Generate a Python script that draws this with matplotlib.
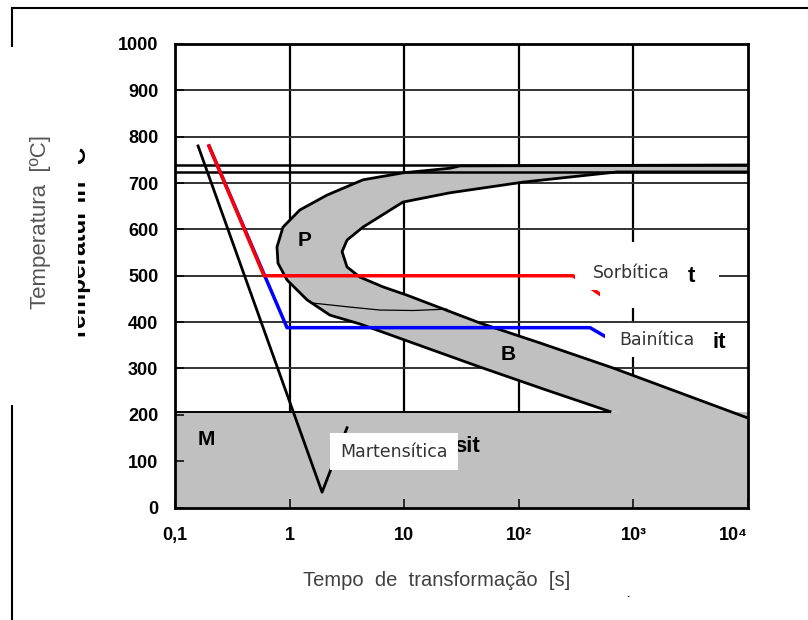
import numpy as np
import matplotlib
matplotlib.use("Agg")
import matplotlib.pyplot as plt
from matplotlib.patches import Rectangle
from matplotlib.lines import Line2D

plt.rcParams["font.family"] = ["Liberation Sans", "DejaVu Sans"]

W, H = 808, 620

# start of transformation (outer edge of the P/B band), from top right to the tip
outer_t = [1e4, 30.7, 25.1, 9.76, 4.37, 2.12, 1.23, 0.876, 0.776, 0.792, 0.949, 1.42, 2.25, 4.11, 11.9, 45.9, 176, 625]
outer_T = [739, 737, 732, 722, 707, 674, 642, 605, 562, 527, 491, 448, 415, 396, 355, 303, 253, 207]
# end of transformation (inner edge), from bottom right up to top right
inner_t = [1e4, 664, 153, 45.9, 10.6, 6.53, 4.11, 3.17, 2.87, 3.17, 4.37, 9.76, 25.1, 109, 720, 1e4]
inner_T = [193, 301, 355, 398, 458, 476, 497, 519, 552, 577, 605, 659, 679, 702, 724, 724]
# thin P/B separation line
sep_t = [1.6, 3.5, 6.15, 12.0, 23.5]
sep_T = [441, 432, 426, 425, 428]

ms_temp = 207
a_lines = [739, 724]

# cooling curves
mart_t = [0.159, 1.92, 3.17]
mart_T = [780, 33, 172]
sorb_t = [0.198, 0.598, 297, 511]
sorb_T = [780, 500, 500, 460]
bain_t = [0.198, 0.949, 418, 577]
bain_T = [780, 388, 388, 368]

xticks = [0.1, 1, 10, 100, 1000, 10000]
xtick_labels = ["0,1", "1", "10", "10²", "10³", "10⁴"]
yticks = list(range(0, 1001, 100))

fig = plt.figure(figsize=(W / 100, H / 100), dpi=100)
ax = fig.add_axes([175 / W, 1 - 507.5 / H, (748 - 175) / W, (507.5 - 44) / H])
ax.set_xscale("log")
ax.set_xlim(0.1, 1e4)
ax.set_ylim(0, 1000)

gray = "#c0c0c0"
for x in xticks[1:-1]:
    ax.axvline(x, color="black", lw=1.6, zorder=0.5)
for y in yticks[1:-1]:
    ax.axhline(y, color="#333333", lw=1.4, zorder=0.5)

ax.fill(outer_t + inner_t, outer_T + inner_T, color=gray, lw=0, zorder=1)
ax.fill_between([0.1, 1e4], 0, ms_temp, color=gray, lw=0, zorder=1)

for y in a_lines:
    ax.axhline(y, color="black", lw=1.8, zorder=2)
ax.plot([0.1, outer_t[-1]], [ms_temp, ms_temp], color="black", lw=1.4, zorder=2)
ax.plot(outer_t, outer_T, color="black", lw=2, zorder=2)
ax.plot(inner_t, inner_T, color="black", lw=2, zorder=2)
ax.plot(sep_t, sep_T, color="black", lw=0.9, zorder=2)

ax.plot(mart_t, mart_T, color="black", lw=2, zorder=3)
ax.plot(bain_t, bain_T, color="#0000ff", lw=2.5, zorder=3)
ax.plot(sorb_t, sorb_T, color="#ff0000", lw=2.5, zorder=3)

ax.text(1.36, 577, "P", fontsize=15, fontweight="bold", ha="center", va="center", zorder=4)
ax.text(80.5, 331, "B", fontsize=15, fontweight="bold", ha="center", va="center", zorder=4)
ax.text(0.186, 146, "M", fontsize=15, fontweight="bold", ha="center", va="center", zorder=4)

ax.minorticks_off()
ax.set_xticks(xticks)
ax.set_xticklabels(xtick_labels)
ax.set_yticks(yticks)
ax.tick_params(direction="in", length=6.5, width=1.1, top=False, right=False)
ax.tick_params(axis="x", pad=14)
ax.tick_params(axis="y", pad=12)
for lab in ax.get_xticklabels() + ax.get_yticklabels():
    lab.set_fontweight("bold")
    lab.set_fontsize(13)
ax.get_xticklabels()[-1].set_ha("right")
for sp in ax.spines.values():
    sp.set_linewidth(2)


def fx(px):
    return px / W


def fy(py):
    return 1 - py / H


def white_box(x0, y0, x1, y1, z=6):
    fig.add_artist(Rectangle((fx(x0), fy(y1)), fx(x1) - fx(x0), fy(y0) - fy(y1),
                             transform=fig.transFigure, facecolor="white", edgecolor="none", zorder=z))


# outer frame
fig.add_artist(Line2D([fx(12), fx(808)], [fy(8), fy(8)], color="black", lw=1.5, zorder=1))
fig.add_artist(Line2D([fx(12), fx(12)], [fy(8), fy(620)], color="black", lw=1.5, zorder=1))

# old bold labels, partly covered
fig.text(fx(91), fy(244), "Temperatur in °C", rotation=90, fontsize=17.5, fontweight="bold",
         ha="right", va="center", zorder=5)
fig.text(fx(726), fy(342), "it", fontsize=16, fontweight="bold", ha="right", va="center", zorder=5)
fig.text(fx(454), fy(447), "sit", fontsize=16, fontweight="bold", ha="left", va="center", zorder=5)

white_box(0, 47, 78, 405)
white_box(575, 242, 719, 290)
white_box(600, 290, 719, 308)
white_box(605, 323, 707, 357)
white_box(330, 433, 458, 470)

fig.text(fx(695), fy(277), "t", fontsize=16, fontweight="bold", ha="right", va="center", zorder=7)

lab_font = ["DejaVu Sans"]
fig.text(fx(631), fy(273), "Sorbítica", fontsize=12.5, family=lab_font, color="#333333",
         ha="center", va="center", zorder=8)
fig.text(fx(657), fy(340), "Bainítica", fontsize=12.5, family=lab_font, color="#333333",
         ha="center", va="center", zorder=8)
fig.text(fx(394), fy(452), "Martensítica", fontsize=12.5, family=lab_font, color="#333333",
         ha="center", va="center", zorder=8)

fig.text(fx(41), fy(222), "Temperatura  [ºC]", rotation=90, fontsize=16, color="#555555",
         ha="center", va="center", zorder=8)
fig.text(fx(437), fy(581), "Tempo  de  transformação  [s]", fontsize=14.5, color="#404040",
         ha="center", va="center", zorder=8)
fig.text(fx(628), fy(594), ".", fontsize=8, fontweight="bold", ha="center", va="center", zorder=8)

fig.savefig("out.png", dpi=100)
